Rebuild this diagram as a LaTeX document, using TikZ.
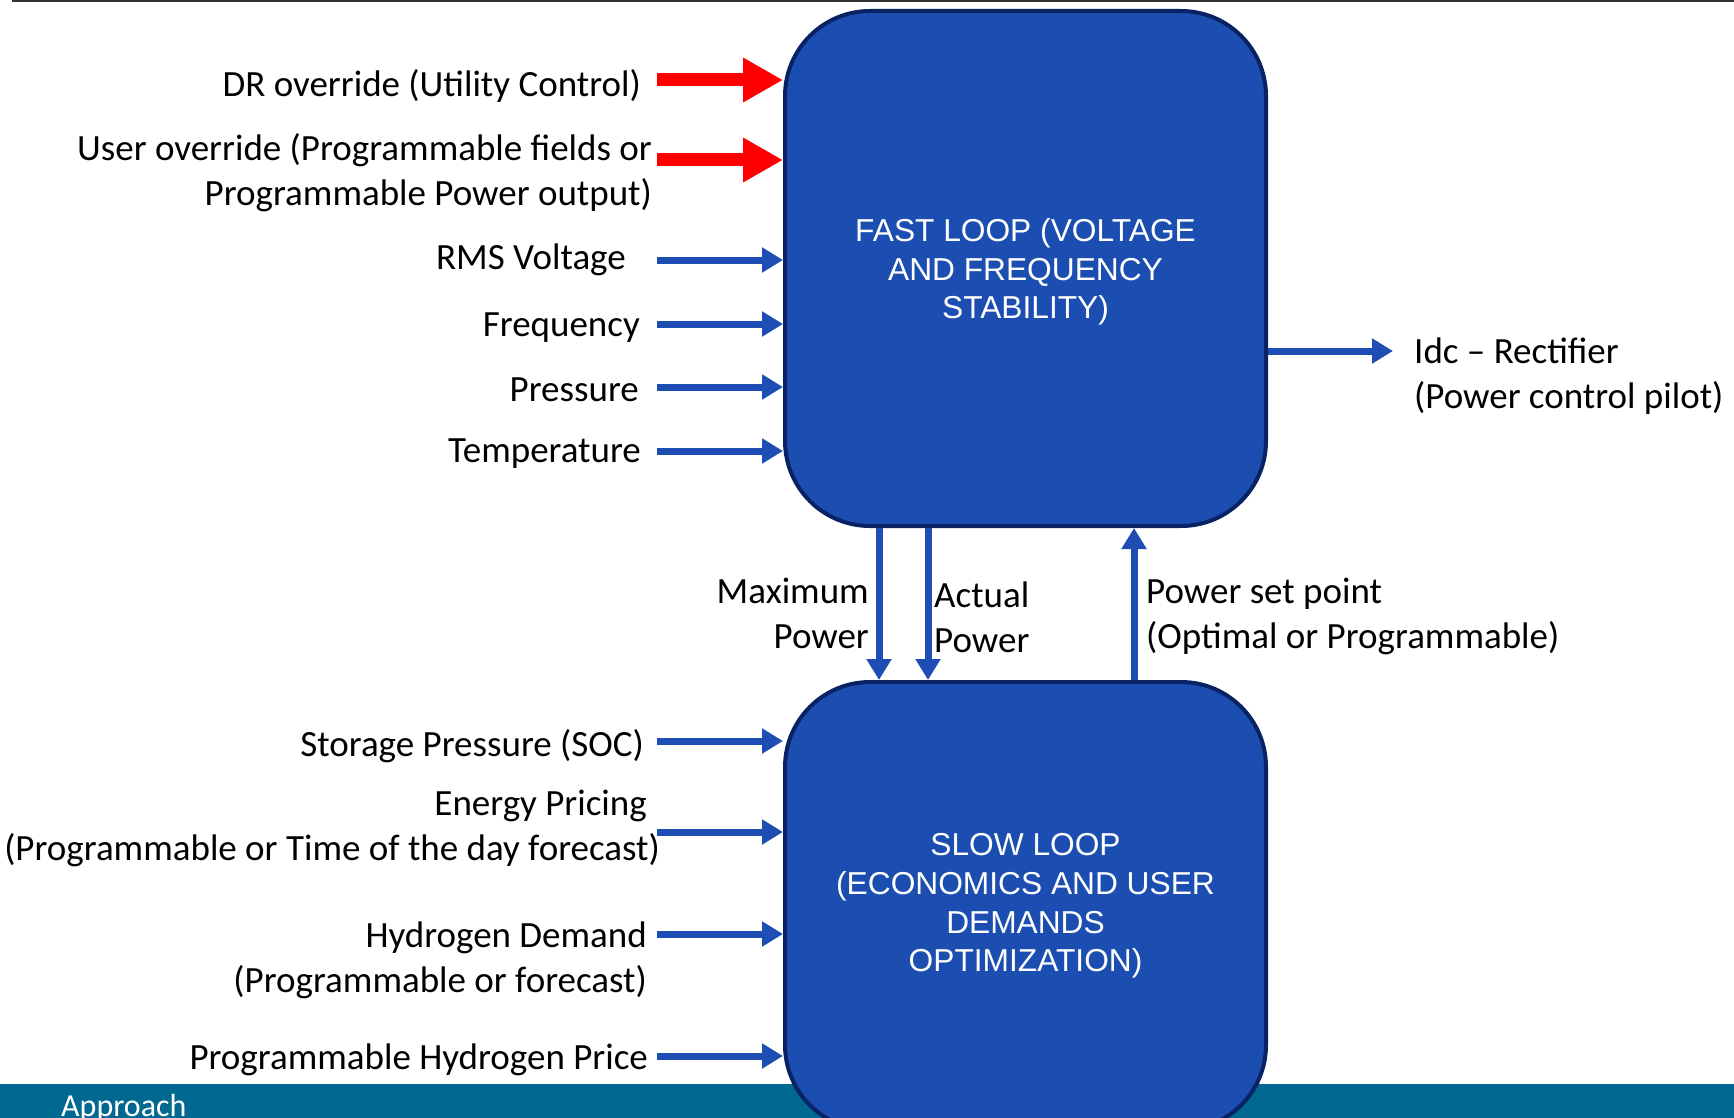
\documentclass[tikz,border=0pt]{standalone}
\usepackage{fontspec}
\setmainfont{Carlito}
\newfontfamily\arialfont{Liberation Sans}
\usetikzlibrary{arrows.meta}
\definecolor{boxblue}{RGB}{28,78,177}
\definecolor{boxedge}{RGB}{8,34,100}
\definecolor{arrblue}{RGB}{30,78,180}
\definecolor{footteal}{RGB}{0,104,145}
\definecolor{topline}{RGB}{50,50,50}
\begin{document}
\begin{tikzpicture}[x=1pt,y=-1pt,
  loopbox/.style={draw=boxedge, line width=4pt, fill=boxblue, rounded corners=85pt, inner sep=0},
  boxtext/.style={text=white, align=center, font=\arialfont\fontsize{31.7}{38.7}\selectfont, inner sep=0},
  lbl/.style={font=\fontsize{37}{45}\selectfont, inner sep=0},
  barrow/.style={draw=arrblue, line width=7pt, -{Triangle[length=21pt,width=24pt]}},
  rarrow/.style={draw=red, line width=13pt, -{Triangle[length=40pt,width=42pt]}},
]
\useasboundingbox (0,0) rectangle (1734,1118);
\clip (0,0) rectangle (1734,1118);
% top rule and footer
\draw[topline, line width=3pt] (12,1) -- (1734,1);
\fill[footteal] (0,1084) rectangle (1734,1118);
\node[font=\fontsize{32}{38}\selectfont, text=white, anchor=base west, inner sep=0] (approach) at (61,1116) {Approach};
% boxes
\node[loopbox, minimum width=481pt, minimum height=515pt] (fast) at (1025.5,268.5) {};
\node[boxtext] (fasttext) at (1025.5,272) {FAST LOOP (VOLTAGE\\AND FREQUENCY\\STABILITY)};
\node[loopbox, minimum width=481pt, minimum height=448pt] (slow) at (1025.5,906) {};
\node[boxtext] (slowtext) at (1025.5,906) {SLOW LOOP\\(ECONOMICS AND USER\\DEMANDS\\OPTIMIZATION)};
% left labels
\node[lbl, anchor=east] (dr) at (641,86) {DR override (Utility Control)};
\node[lbl, anchor=east, align=right] (user) at (652,172.5) {User override (Programmable fields or\\Programmable Power output)};
\node[lbl, anchor=east] (rms) at (626,260) {RMS Voltage};
\node[lbl, anchor=east] (freq) at (640,327.5) {Frequency};
\node[lbl, anchor=east] (pres) at (639,390) {Pressure};
\node[lbl, anchor=east] (temp) at (641,454) {Temperature};
\node[lbl, anchor=east] (soc) at (644,746) {Storage Pressure (SOC)};
\node[lbl, anchor=east, align=right] (energy) at (660,828.5) {Energy Pricing\kern13pt\\(Programmable or Time of the day forecast)};
\node[lbl, anchor=east, align=right] (hdem) at (647,960) {Hydrogen Demand\\(Programmable or forecast)};
\node[lbl, anchor=east] (hprice) at (648,1060) {Programmable Hydrogen Price};
% right / middle labels
\node[lbl, anchor=west, align=left] (idc) at (1414,376) {Idc -- Rectifier\\(Power control pilot)};
\node[lbl, anchor=east, align=right] (maxp) at (869,613.5) {Maximum\\Power};
\node[lbl, anchor=west, align=left] (actp) at (934,617.5) {Actual\\Power};
\node[lbl, anchor=west, align=left] (setp) at (1146,616) {Power set point\\(Optimal or Programmable)};
% arrow start points
\coordinate (r1) at (657,80);
\coordinate (r2) at (657,160);
\coordinate (b1) at (657,260);
\coordinate (b2) at (657,324);
\coordinate (b3) at (657,387);
\coordinate (b4) at (657,451);
\coordinate (c1) at (657,741);
\coordinate (c2) at (657,832);
\coordinate (c3) at (657,934);
\coordinate (c4) at (657,1056);
\coordinate (idcend) at (1393,351);
% arrows
\draw[rarrow] (r1) -- (r1 -| fast.west);
\draw[rarrow] (r2) -- (r2 -| fast.west);
\foreach \p in {b1,b2,b3,b4} \draw[barrow] (\p) -- (\p -| fast.west);
\foreach \p in {c1,c2,c3,c4} \draw[barrow] (\p) -- (\p -| slow.west);
\draw[barrow] (idcend -| fast.east) -- (idcend);
\draw[barrow] ([xshift=-146.5pt]fast.south) -- ([xshift=-146.5pt]slow.north);
\draw[barrow] ([xshift=-97.5pt]fast.south) -- ([xshift=-97.5pt]slow.north);
\draw[barrow] ([xshift=108.5pt]slow.north) -- ([xshift=108.5pt]fast.south);
\end{tikzpicture}
\end{document}
